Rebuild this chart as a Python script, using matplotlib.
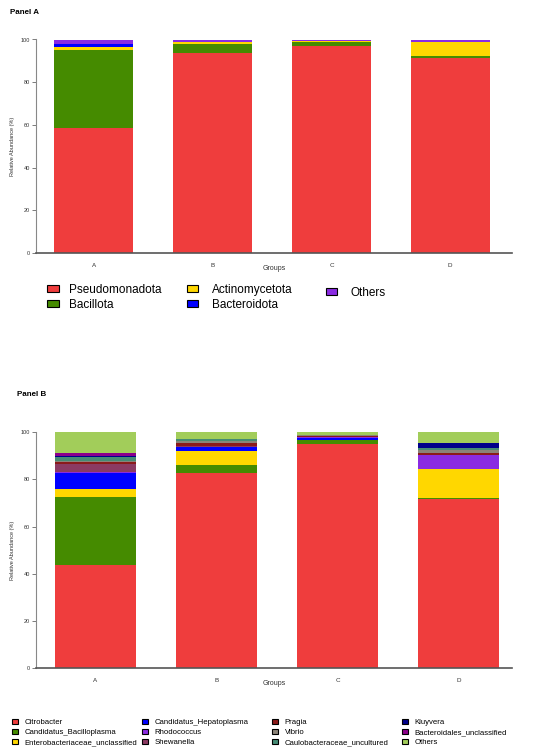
import numpy as np
import matplotlib
matplotlib.use("Agg")
import matplotlib.pyplot as plt
from matplotlib.patches import Patch

plt.rcParams['font.family'] = ['Liberation Sans', 'DejaVu Sans']

groups = ['A', 'B', 'C', 'D']

# Panel A - phylum level (%)
phyla = ['Pseudomonadota', 'Bacillota', 'Actinomycetota', 'Bacteroidota', 'Others']
phyla_colors = ['#EF3D3D', '#458B00', '#FFD700', '#0000FF', '#8A2BE2']
pseudomonadota = [58.4, 93.5, 97.1, 91.4]
bacillota = [36.8, 4.5, 1.8, 0.9]
actinomycetota = [1.2, 0.7, 0.3, 6.3]
bacteroidota = [1.6, 0.1, 0.1, 0.1]
others_a = [2.0, 1.2, 0.7, 1.3]

# Panel B - genus level (%)
genera = ['Citrobacter', 'Candidatus_Bacilloplasma', 'Enterobacteriaceae_unclassified',
          'Candidatus_Hepatoplasma', 'Rhodococcus', 'Shewanella',
          'Pragia', 'Vibrio', 'Caulobacteraceae_uncultured',
          'Kluyvera', 'Bacteroidales_unclassified', 'Others']
genera_colors = ['#EF3D3D', '#458B00', '#FFD700', '#0000FF', '#8A2BE2', '#8B3A62',
                 '#8B1A1A', '#8B8378', '#458B74', '#00008B', '#8B008B', '#A2CD5A']
citrobacter = [43.6, 82.9, 94.9, 71.6]
bacilloplasma = [28.8, 3.4, 1.7, 0.7]
entero_uncl = [3.7, 5.9, 0.2, 12.1]
hepatoplasma = [6.8, 1.6, 0.6, 0.1]
rhodococcus = [0.1, 0.1, 0.4, 5.7]
shewanella = [3.5, 0.2, 0.2, 0.1]
pragia = [1.1, 1.4, 0.3, 0.9]
vibrio = [0.2, 0.8, 0.4, 1.2]
caulo_uncult = [1.9, 0.8, 0.2, 1.1]
kluyvera = [0.1, 0.1, 0.0, 1.8]
bacteroidales_uncl = [1.3, 0.1, 0.1, 0.1]
others_b = [8.9, 2.7, 1.0, 4.6]

W, H = 550, 756


def fx(px):
    return px / W


def fy(py):
    return 1 - py / H


def stacked(ax, series, colors, width):
    x = np.arange(len(groups))
    bottom = np.zeros(len(groups))
    for vals, c in zip(series, colors):
        ax.bar(x, vals, width=width, bottom=bottom, color=c, linewidth=0)
        bottom += np.array(vals)
    ax.set_ylim(0, 100)
    ax.set_yticks([0, 20, 40, 60, 80, 100])
    ax.set_xticks(x)
    ax.set_xticklabels(groups, fontsize=4.5, color='#333333')
    ax.tick_params(axis='x', length=0, pad=7)
    ax.tick_params(axis='y', labelsize=4, length=3, width=0.6, color='#666666',
                   labelcolor='#333333', pad=1.5)
    ax.spines['top'].set_visible(False)
    ax.spines['right'].set_visible(False)
    ax.spines['left'].set_color('#888888')
    ax.spines['left'].set_linewidth(0.8)
    ax.spines['bottom'].set_color('#555555')
    ax.spines['bottom'].set_linewidth(1.2)
    ax.set_ylabel('Relative Abundance (%)', fontsize=4, color='#333333', labelpad=4)
    ax.set_xlabel('Groups', fontsize=5, color='#333333', labelpad=-2)


def col_legend(names, colors, x_px, y_px, fs, hl, hh, sp, pad):
    handles = [Patch(facecolor=c, edgecolor='black', linewidth=0.8) for c in colors]
    fig.legend(handles, names, loc='upper left', bbox_to_anchor=(fx(x_px), fy(y_px)),
               frameon=False, fontsize=fs, handlelength=hl, handleheight=hh,
               handletextpad=pad, labelspacing=sp, borderpad=0, borderaxespad=0)


fig = plt.figure(figsize=(5.5, 7.56), dpi=100)

# Panel A
axA = fig.add_axes([fx(36), fy(253), fx(476), (253 - 39.5) / H])
stacked(axA, [pseudomonadota, bacillota, actinomycetota, bacteroidota, others_a],
        phyla_colors, 0.665)
axA.set_xlim(-0.487, 3.52)
fig.text(fx(10), fy(12), 'Panel A', fontsize=5.8, fontweight='bold', va='center')

col_legend(phyla[0:2], phyla_colors[0:2], 47, 284, 8.5, 1.0, 0.55, 0.22, 0.85)
col_legend(phyla[2:4], phyla_colors[2:4], 187, 284, 8.5, 0.95, 0.55, 0.22, 1.2)
col_legend(phyla[4:], phyla_colors[4:], 326, 287, 8.5, 0.95, 0.55, 0.22, 1.15)

# Panel B
axB = fig.add_axes([fx(36), fy(668), fx(476), (668 - 432.3) / H])
stacked(axB, [citrobacter, bacilloplasma, entero_uncl, hepatoplasma, rhodococcus,
              shewanella, pragia, vibrio, caulo_uncult, kluyvera, bacteroidales_uncl,
              others_b], genera_colors, 0.67)
axB.set_xlim(-0.49, 3.44)
fig.text(fx(17), fy(395), 'Panel B', fontsize=5.8, fontweight='bold', va='center')

for i, xp in enumerate([12, 142, 272, 402]):
    col_legend(genera[3 * i:3 * i + 3], genera_colors[3 * i:3 * i + 3], xp, 719,
               5.6, 0.75, 0.7, 0.3, 0.9)

fig.savefig('out.png', dpi=100)
